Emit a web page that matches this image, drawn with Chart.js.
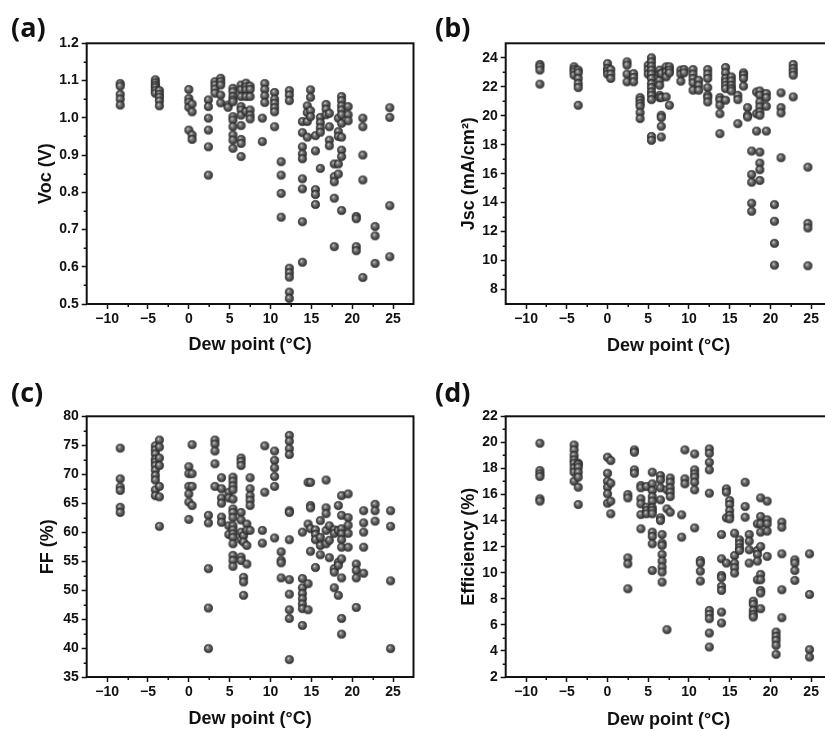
<!DOCTYPE html>
<html>
<head>
<meta charset="utf-8">
<title>Dew point scatter</title>
<script src="https://cdn.jsdelivr.net/npm/chart.js@4.4.1/dist/chart.umd.min.js"></script>
<style>
    html, body { margin: 0; padding: 0; background: #fff; overflow: hidden; }
    #wrap { position: relative; width: 825px; height: 729px; overflow: hidden; }
    #wrap canvas { position: absolute; }
    .tag { position: absolute; font: bold 27px "Open Sans", sans-serif; line-height: 26px; color: #111; }
</style>
</head>
<body>
<div id="wrap">
    <canvas id="chart-voc" width="425" height="364" style="left:0;top:0"></canvas>
    <canvas id="chart-jsc" width="425" height="364" style="left:412px;top:0"></canvas>
    <canvas id="chart-ff" width="425" height="364" style="left:0;top:373px"></canvas>
    <canvas id="chart-eff" width="425" height="364" style="left:412px;top:373px"></canvas>
    <div class="tag" style="left:11px;top:14px">(a)</div>
    <div class="tag" style="left:435px;top:14px">(b)</div>
    <div class="tag" style="left:11px;top:379px">(c)</div>
    <div class="tag" style="left:435px;top:379px">(d)</div>
</div>
<script>
// tick labels
const dewTicks = [-10, -5, 0, 5, 10, 15, 20, 25];
const vocTicks = [0.5, 0.6, 0.7, 0.8, 0.9, 1.0, 1.1, 1.2];
const jscTicks = [8, 10, 12, 14, 16, 18, 20, 22, 24];
const ffTicks = [35, 40, 45, 50, 55, 60, 65, 70, 75, 80];
const effTicks = [2, 4, 6, 8, 10, 12, 14, 16, 18, 20, 22];

// (a) Voc — dew point columns and the values measured at each
const vocDew = [-8.4, -4.1, -3.6, 0, 0.4, 2.4, 3.2, 3.9, 4.8, 5.4, 6.4, 7.0, 7.5, 9.0, 9.3, 10.5, 11.3, 12.3,
    13.9, 14.5, 14.9, 15.5, 16.1, 16.8, 17.2, 17.8, 18.3, 18.7, 19.5, 20.5, 21.3, 22.8, 24.6];
const vocVals = [
    [1.092, 1.085, 1.063, 1.050, 1.034],
    [1.102, 1.094, 1.087, 1.081, 1.073, 1.066],
    [1.073, 1.063, 1.055, 1.045, 1.032],
    [1.076, 1.052, 1.042, 1.028, 0.967],
    [1.037, 1.016, 0.954, 0.942],
    [1.048, 1.030, 0.999, 0.967, 0.922, 0.846],
    [1.097, 1.088, 1.077, 1.066],
    [1.106, 1.097, 1.088, 1.061, 1.040],
    [1.034, 1.028],
    [1.079, 1.070, 1.057, 1.048, 1.043, 1.003, 0.994, 0.976, 0.954, 0.940, 0.918],
    [1.088, 1.075, 1.057, 1.030, 1.021, 1.007, 0.979, 0.942, 0.931, 0.896],
    [1.093, 1.083, 1.075, 1.057, 1.017],
    [1.085, 1.076, 1.057, 1.021, 1.007, 0.997],
    [0.999, 0.936],
    [1.092, 1.076, 1.059, 1.041],
    [1.068, 1.050, 1.039, 1.027, 1.016, 0.976],
    [0.882, 0.846, 0.797, 0.733],
    [1.073, 1.061, 1.046, 0.596, 0.584, 0.572, 0.532, 0.515],
    [0.990, 0.960, 0.922, 0.903, 0.890, 0.836, 0.809, 0.721, 0.612],
    [1.032, 1.014, 0.990, 0.948],
    [1.075, 1.055, 1.019, 1.003],
    [0.952, 0.911, 0.807, 0.794, 0.767],
    [1.001, 0.987, 0.973, 0.961, 0.864],
    [1.036, 1.023, 1.008],
    [1.012, 0.976, 0.940, 0.925],
    [0.876, 0.842, 0.828, 0.784, 0.654],
    [0.999, 0.963, 0.950, 0.876, 0.849],
    [1.057, 1.046, 1.032, 1.021, 1.008, 0.985, 0.948, 0.913, 0.896, 0.751],
    [1.030, 1.008, 0.992],
    [0.735, 0.729, 0.654, 0.643],
    [0.999, 0.976, 0.900, 0.833, 0.571],
    [0.708, 0.683, 0.609],
    [1.027, 1.001, 0.764, 0.627]
];

// (b) Jsc
const jscDew = [-8.3, -4.1, -3.6, 0, 0.4, 2.4, 3.2, 4.0, 5.0, 5.4, 6.4, 6.6, 7.2, 7.6, 9.0, 9.4, 10.5, 11.2, 12.3,
    13.8, 14.5, 15.2, 16.0, 16.7, 17.2, 17.7, 18.3, 18.7, 19.5, 20.5, 21.3, 22.8, 24.6];
const jscVals = [
    [23.54, 23.38, 23.15, 22.18],
    [23.38, 23.19, 23.03, 22.80],
    [23.15, 22.96, 22.57, 22.22, 21.94, 20.72],
    [23.60, 23.26, 23.08, 22.87],
    [23.19, 22.87, 22.57],
    [23.72, 23.49, 22.87, 22.34],
    [22.91, 22.64, 22.34],
    [21.25, 21.07, 20.84, 20.65, 20.21, 19.80],
    [23.49, 23.19, 22.87],
    [24.00, 23.72, 23.42, 23.15, 22.87, 22.57, 22.22, 21.94, 21.64, 21.41, 21.11, 18.57, 18.30],
    [23.15, 22.87, 22.45, 22.10, 21.41, 21.25],
    [22.91, 21.25, 20.03, 19.87, 19.27, 18.53],
    [23.38, 23.03, 22.68, 21.30],
    [23.38, 23.15, 22.96, 20.72],
    [23.15, 22.87, 22.38],
    [23.19, 22.96],
    [23.19, 22.87, 22.57, 22.27, 21.76],
    [22.45, 22.10, 21.76],
    [23.19, 22.87, 22.57, 21.94, 21.41, 21.25, 20.95],
    [21.25, 21.07, 20.72, 20.14, 18.76],
    [23.33, 22.96, 22.57, 22.34, 22.10, 21.87, 21.07],
    [22.68, 22.40, 22.10, 21.87, 21.71],
    [21.41, 21.11, 19.45],
    [22.96, 22.80, 22.57, 22.04],
    [20.56, 20.03, 19.91],
    [17.56, 15.94, 15.41, 13.96, 13.40],
    [21.64, 20.14, 18.94],
    [21.71, 21.41, 20.95, 20.61, 20.26, 20.03, 17.49, 16.73, 16.27, 15.53],
    [21.53, 21.25, 20.65, 18.94],
    [13.86, 12.71, 11.19, 9.68],
    [21.58, 20.56, 20.19, 17.10],
    [23.54, 23.26, 23.03, 22.80, 21.30],
    [16.45, 12.57, 12.25, 9.64]
];

// (c) FF
const ffDew = [-8.4, -4.1, -3.6, 0, 0.4, 2.4, 3.2, 4.0, 4.9, 5.4, 6.4, 6.7, 7.1, 7.5, 9.0, 9.3, 10.5, 11.3, 12.3,
    13.9, 14.6, 14.9, 15.5, 16.1, 16.8, 17.2, 17.8, 18.3, 18.7, 19.5, 20.5, 21.4, 22.8, 24.7];
const ffVals = [
    [74.5, 69.2, 67.8, 67.2, 64.3, 63.4],
    [74.9, 74.2, 73.5, 72.6, 72.1, 71.5, 70.7, 69.8, 69.0, 67.3, 66.3],
    [75.9, 74.7, 72.8, 71.5, 67.9, 66.1, 61.0],
    [71.3, 70.1, 67.9, 66.6, 65.2, 62.2],
    [75.1, 70.1, 67.9, 64.6],
    [62.9, 61.6, 53.7, 46.9, 39.9],
    [75.9, 75.2, 74.0, 71.8, 67.9],
    [69.4, 67.5, 65.9, 65.0, 62.6, 61.7],
    [66.9, 65.9, 61.1, 59.6],
    [69.5, 68.8, 68.0, 67.3, 65.7, 64.0, 63.4, 62.5, 61.1, 60.4, 59.7, 59.1, 58.0, 56.0, 55.1, 54.1],
    [72.8, 72.2, 71.5, 63.4, 62.1, 60.0, 58.7, 55.7, 55.1],
    [59.4, 58.3, 52.2, 51.4, 49.1],
    [61.4, 60.3, 57.7, 54.5],
    [69.4, 67.5, 66.3, 65.5, 64.6, 60.3],
    [60.3, 58.1],
    [74.9, 66.9],
    [74.0, 72.4, 71.1, 69.6, 67.9, 59.0],
    [56.6, 55.1, 54.7, 52.1],
    [76.7, 75.7, 74.4, 73.4, 63.7, 63.4, 58.7, 51.8, 49.3, 46.6, 45.1, 38.0],
    [60.0, 52.0, 50.4, 49.4, 48.5, 47.6, 46.8, 43.9],
    [68.6, 61.4, 51.1, 46.6],
    [68.6, 64.6, 64.2, 60.6, 56.7],
    [60.4, 59.6, 58.7, 53.9],
    [62.0, 59.1, 57.7, 56.1],
    [69.0, 64.2, 63.2, 60.3, 58.0],
    [61.1, 58.6, 55.6],
    [60.4, 59.8, 53.7, 53.1, 50.4],
    [64.6, 60.3, 54.8, 54.3, 49.1],
    [66.3, 62.9, 60.6, 59.7, 58.7, 57.4, 55.4, 52.1, 45.1, 42.4],
    [66.6, 62.5, 61.2, 59.8, 57.4],
    [54.5, 53.4, 52.1, 47.0],
    [63.7, 61.6, 60.0, 57.4, 52.9],
    [64.8, 63.7, 61.9],
    [63.7, 61.0, 51.6, 39.9]
];

// (d) Efficiency
const effDew = [-8.3, -4.1, -3.6, 0, 0.4, 2.5, 3.3, 4.1, 4.8, 5.5, 6.5, 6.7, 7.3, 7.7, 9.1, 9.5, 10.7, 11.4, 12.5,
    14.0, 14.6, 15.0, 15.6, 16.2, 16.9, 17.4, 17.9, 18.4, 18.8, 19.6, 20.7, 21.4, 23.0, 24.8];
const effVals = [
    [19.93, 17.84, 17.58, 17.38, 15.67, 15.49],
    [19.80, 19.42, 18.99, 18.65, 18.40, 18.04, 17.71, 17.02],
    [18.40, 18.30, 18.09, 17.71, 17.33, 16.56, 15.23],
    [18.86, 17.63, 17.02, 16.56, 16.05, 15.33],
    [18.60, 16.87, 15.49, 14.52],
    [16.00, 15.74, 11.14, 10.68, 8.77],
    [19.42, 19.24, 17.89, 17.63],
    [16.69, 16.51, 15.67, 15.28, 14.46, 13.37],
    [16.61, 15.03, 14.77, 14.52],
    [17.71, 16.82, 16.31, 15.84, 15.49, 14.98, 14.77, 14.52, 13.11, 12.78, 12.22, 10.17],
    [17.45, 17.12, 16.51, 15.59, 14.21, 14.00],
    [12.93, 12.27, 12.09, 11.40, 10.89, 10.43, 10.05, 9.28],
    [16.36, 14.90, 5.63],
    [17.27, 16.94, 16.51, 16.18, 15.84, 14.64],
    [14.44, 12.73],
    [19.42, 17.20, 16.82],
    [19.11, 17.89, 17.58, 17.33, 16.94, 16.36, 13.44],
    [10.94, 10.74, 10.12, 9.36],
    [19.50, 19.16, 18.47, 17.89, 16.10, 7.11, 6.80, 6.47, 5.37, 4.30],
    [12.93, 11.07, 9.79, 9.61, 8.95, 8.64, 6.98, 6.14],
    [16.43, 16.18, 14.21, 10.74],
    [15.54, 15.23, 14.77, 14.39, 14.13],
    [13.03, 11.32, 10.74, 10.38, 9.97],
    [12.52, 12.22, 11.91, 11.71],
    [16.94, 15.08, 14.26],
    [12.93, 12.42, 11.76, 10.74],
    [7.82, 7.57, 7.11, 6.80, 6.60],
    [13.75, 11.71, 11.40, 10.89, 9.46],
    [15.74, 14.31, 13.75, 13.11, 12.01, 9.87, 9.46, 8.64, 8.44, 7.24],
    [15.49, 14.06, 13.75, 13.19, 11.25],
    [5.45, 5.12, 4.81, 4.43, 3.74],
    [13.88, 13.49, 11.45, 8.69, 6.55],
    [10.99, 10.74, 10.17, 9.41],
    [11.45, 8.33, 4.10, 3.53]
];

Chart.defaults.font.family = '"Liberation Sans", Arial, sans-serif';
Chart.defaults.color = '#111';

var ink = '#111';
var tickFont = { size: 14, weight: 'bold' };
var titleFont = { size: 18, weight: 'bold' };

// shaded grey ball used as the marker
function makeSphere(r) {
    var c = document.createElement('canvas');
    var s = Math.ceil(r * 2 + 2);
    c.width = c.height = s;
    var g = c.getContext('2d');
    var cx = s / 2, cy = s / 2;
    var grad = g.createRadialGradient(cx - r * 0.3, cy - r * 0.35, 0.2, cx, cy, r);
    grad.addColorStop(0, '#e6e6e6');
    grad.addColorStop(0.22, '#8e8e8e');
    grad.addColorStop(0.65, '#555');
    grad.addColorStop(1, '#2f2f2f');
    g.fillStyle = grad;
    g.beginPath();
    g.arc(cx, cy, r, 0, Math.PI * 2);
    g.fill();
    g.strokeStyle = 'rgba(40,40,40,0.9)';
    g.lineWidth = 0.8;
    g.stroke();
    return c;
}
var sphere = makeSphere(4.1);

function midpoints(ticks) {
    var out = [];
    for (var i = 1; i < ticks.length; i++) out.push((ticks[i - 1] + ticks[i]) / 2);
    return out;
}

// box around the plot + short minor ticks
var framePlugin = {
    id: 'frame',
    afterDraw: function (chart, args, opts) {
        var ctx = chart.ctx, a = chart.chartArea, sx = chart.scales.x, sy = chart.scales.y;
        ctx.save();
        ctx.strokeStyle = ink;
        ctx.lineWidth = 1.5;
        ctx.beginPath();
        (opts.xMinor || []).forEach(function (v) {
            var px = Math.round(sx.getPixelForValue(v)) + 0.25;
            ctx.moveTo(px, a.bottom);
            ctx.lineTo(px, a.bottom + 3);
        });
        (opts.yMinor || []).forEach(function (v) {
            var py = Math.round(sy.getPixelForValue(v)) + 0.25;
            ctx.moveTo(a.left, py);
            ctx.lineTo(a.left - 3, py);
        });
        ctx.stroke();
        ctx.lineWidth = 2;
        ctx.strokeRect(a.left, a.top, a.right - a.left, a.bottom - a.top);
        ctx.restore();
    }
};

function axisGrid() {
    return { drawOnChartArea: false, drawTicks: true, tickLength: 5, tickWidth: 1.5, tickColor: ink };
}

function renderPanel(id, dew, vals, yTicks, yMin, yMax, yTitle, fmt, lay) {
    var canvas = document.getElementById(id);
    if (!canvas || !window.Chart) return;
    var pts = [];
    dew.forEach(function (x, i) {
        vals[i].forEach(function (y) { pts.push({ x: x, y: y }); });
    });
    return new Chart(canvas, {
        type: 'scatter',
        data: {
            datasets: [{
                data: pts,
                pointStyle: sphere,
                pointRadius: 4.5,
                pointHoverRadius: 4.5,
            }],
        },
        options: {
            responsive: false,
            animation: false,
            events: [],
            devicePixelRatio: 1,
            layout: { padding: { top: 43.3, right: lay.right, left: 0, bottom: 0 } },
            plugins: {
                legend: { display: false },
                tooltip: { enabled: false },
                frame: { xMinor: midpoints(dewTicks), yMinor: midpoints(yTicks) },
            },
            scales: {
                x: {
                    type: 'linear',
                    min: -12.5,
                    max: 27.5,
                    afterFit: function (s) { s.height = 60; },
                    afterBuildTicks: function (s) { s.ticks = dewTicks.map(function (v) { return { value: v }; }); },
                    grid: axisGrid(),
                    border: { display: false },
                    ticks: {
                        autoSkip: false, maxRotation: 0, padding: 2, color: ink, font: tickFont,
                        callback: function (v) { return String(v).replace('-', '\u2212'); },
                    },
                    title: { display: true, text: 'Dew point (°C)', color: ink, font: titleFont, padding: { bottom: lay.xt } },
                },
                y: {
                    type: 'linear',
                    min: yMin,
                    max: yMax,
                    afterFit: function (s) { s.width = lay.left; },
                    afterBuildTicks: function (s) { s.ticks = yTicks.map(function (v) { return { value: v }; }); },
                    grid: axisGrid(),
                    border: { display: false },
                    ticks: { autoSkip: false, padding: 3, color: ink, font: tickFont, callback: fmt },
                    title: { display: true, text: yTitle, color: ink, font: titleFont, padding: { top: lay.yt } },
                },
            },
        },
        plugins: [framePlugin],
    });
}

function oneDecimal(v) { return Number(v).toFixed(1); }
function whole(v) { return String(Math.round(v)); }

function init() {
    renderPanel('chart-voc', vocDew, vocVals, vocTicks, 0.5, 1.2, 'Voc (V)', oneDecimal,
        { left: 86.7, right: 11.5, xt: 8, yt: 35 });
    renderPanel('chart-jsc', jscDew, jscVals, jscTicks, 7, 25, 'Jsc (mA/cm²)', whole,
        { left: 93.7, right: 5, xt: 7, yt: 46 });
    renderPanel('chart-ff', ffDew, ffVals, ffTicks, 35, 80, 'FF (%)', whole,
        { left: 86.7, right: 11.5, xt: 7, yt: 37 });
    renderPanel('chart-eff', effDew, effVals, effTicks, 2, 22, 'Efficiency (%)', whole,
        { left: 93.7, right: 5, xt: 6, yt: 46 });
}

init();
</script>
</body>
</html>
